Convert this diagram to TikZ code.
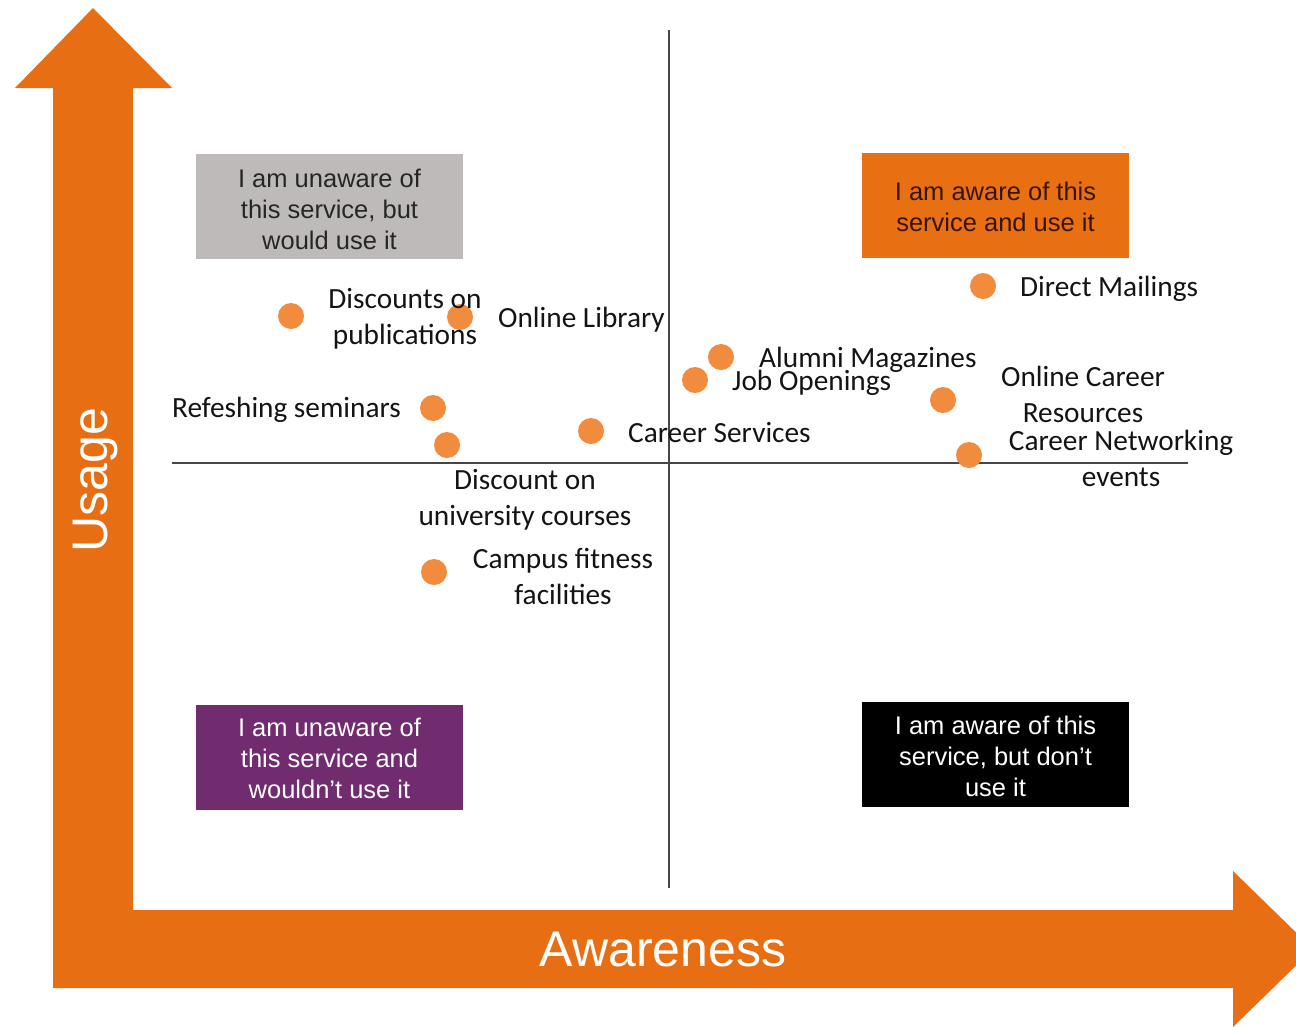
\documentclass[tikz,border=0pt]{standalone}
\usepackage{fontspec}
\setmainfont{Liberation Sans}
\newfontfamily\calfont{Carlito}
\definecolor{axisorange}{RGB}{232,110,20}
\definecolor{dotorange}{RGB}{241,140,62}
\definecolor{boxgray}{RGB}{190,186,186}
\definecolor{boxorange}{RGB}{232,112,18}
\definecolor{boxpurple}{RGB}{112,44,110}
\definecolor{brownink}{RGB}{55,20,5}
\definecolor{lineg}{RGB}{70,70,70}
\definecolor{labink}{RGB}{20,20,20}
\tikzset{
  quadbox/.style={minimum width=267pt, minimum height=105pt, inner sep=0pt, align=center,
    font=\fontsize{25.5}{31}\selectfont},
  quadtext/.style={inner sep=0pt, align=center, font=\fontsize{25.5}{31}\selectfont},
  dot/.style={circle, fill=dotorange, minimum size=26pt, inner sep=0pt},
  lab/.style={inner sep=0pt, align=center, text=labink, yshift=-2pt, font=\calfont\fontsize{29.3}{36}\selectfont},
  quadline/.style={draw=lineg, line width=1.1pt},
  axislab/.style={text=white, inner sep=0pt, font=\fontsize{50}{60}\selectfont}
}
\begin{document}
\begin{tikzpicture}[x=1pt,y=-1pt]
\useasboundingbox (0,0) rectangle (1296,1026);
\clip (0,0) rectangle (1296,1026);
\fill[white] (0,0) rectangle (1296,1026);
% L-shaped double arrow
\fill[axisorange] (93,8) -- (172,88) -- (133,88) -- (133,910) -- (1233,910) -- (1233,871)
  -- (1313,949) -- (1233,1027) -- (1233,988) -- (53,988) -- (53,88) -- (15,88) -- cycle;
\node[axislab, rotate=90] (usage) at (95,480) {Usage};
\node[axislab] (aware) at (663,950) {Awareness};
% quadrant lines
\coordinate (vtop) at (669,30);
\coordinate (vbot) at (669,888);
\coordinate (hleft) at (172,463);
\coordinate (hright) at (1188,463);
\draw[quadline] (vtop) -- (vbot);
\draw[quadline] (hleft) -- (hright);
% quadrant boxes
\node[quadbox, fill=boxgray] (q1) at (329.5,206.5) {};
\node[quadtext, text=black!85] (t1) at (329.5,209) {I am unaware of\\this service, but\\would use it};
\node[quadbox, fill=boxorange] (q2) at (995.5,205.5) {};
\node[quadtext, text=brownink] (t2) at (995.5,207) {I am aware of this\\service and use it};
\node[quadbox, fill=boxpurple] (q3) at (329.5,757) {};
\node[quadtext, text=white] (t3) at (329.5,758) {I am unaware of\\this service and\\wouldn’t use it};
\node[quadbox, fill=black] (q4) at (995.5,754.5) {};
\node[quadtext, text=white] (t4) at (995.5,756) {I am aware of this\\service, but don’t\\use it};
% dots
\node[dot] (d1) at (291,316) {};
\node[dot] (d2) at (460,317) {};
\node[dot] (d3) at (433,408) {};
\node[dot] (d4) at (447,445) {};
\node[dot] (d5) at (591,431) {};
\node[dot] (d6) at (721,357) {};
\node[dot] (d7) at (695,380) {};
\node[dot] (d8) at (983,286) {};
\node[dot] (d9) at (943,400) {};
\node[dot] (d10) at (969,455) {};
\node[dot] (d11) at (434,572) {};
% labels
\node[lab] (l1) at (405,317) {Discounts on\\publications};
\node[lab, anchor=west] (l2) at (498,318) {Online Library};
\node[lab, anchor=east] (l3) at (401,408) {Refeshing seminars};
\node[lab] (l4) at (525,498) {Discount on\\university courses};
\node[lab, anchor=west] (l5) at (628,431) {Career Services};
\node[lab, anchor=west] (l6) at (759,358) {Alumni Magazines};
\node[lab, anchor=west] (l7) at (732,381) {Job Openings};
\node[lab, anchor=west] (l8) at (1020,287) {Direct Mailings};
\node[lab] (l9) at (1083,392) {Online Career\\Resources};
\node[lab] (l10) at (1121,456) {Career Networking\\events};
\node[lab] (l11) at (563,574) {Campus fitness\\facilities};
\end{tikzpicture}
\end{document}
